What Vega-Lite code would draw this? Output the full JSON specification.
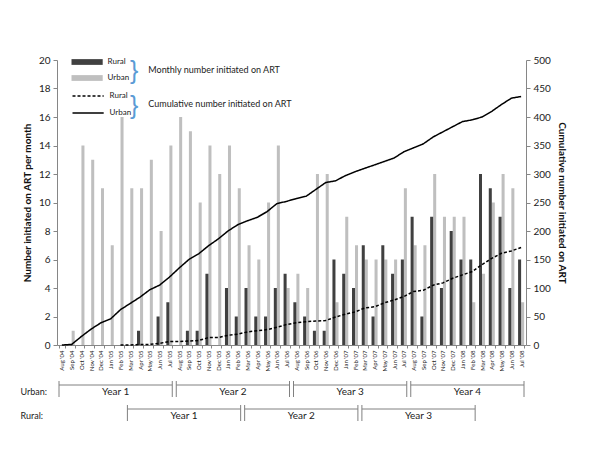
{
  "$schema": "https://vega.github.io/schema/vega-lite/v6.json",
  "padding": {"left": 20, "top": 54, "right": 5, "bottom": 5},
  "config": {
    "font": "Lato",
    "view": {"stroke": null},
    "axis": {"grid": false, "domainColor": "#868686", "tickColor": "#868686", "labelColor": "#222222", "titleColor": "#111111"},
    "legend": {"labelFont": "Lato", "labelColor": "#222222"}
  },
  "datasets": {
    "art": [
      {"month": "Aug '04", "group": "Urban", "monthly": 0, "cumulative": 0},
      {"month": "Sep '04", "group": "Urban", "monthly": 1, "cumulative": 1},
      {"month": "Oct '04", "group": "Urban", "monthly": 14, "cumulative": 15},
      {"month": "Nov '04", "group": "Urban", "monthly": 13, "cumulative": 28},
      {"month": "Dec '04", "group": "Urban", "monthly": 11, "cumulative": 39},
      {"month": "Jan '05", "group": "Urban", "monthly": 7, "cumulative": 46},
      {"month": "Feb '05", "group": "Urban", "monthly": 16, "cumulative": 62},
      {"month": "Mar '05", "group": "Urban", "monthly": 11, "cumulative": 73},
      {"month": "Apr '05", "group": "Urban", "monthly": 11, "cumulative": 84},
      {"month": "May '05", "group": "Urban", "monthly": 13, "cumulative": 97},
      {"month": "Jun '05", "group": "Urban", "monthly": 8, "cumulative": 105},
      {"month": "Jul '05", "group": "Urban", "monthly": 14, "cumulative": 119},
      {"month": "Aug '05", "group": "Urban", "monthly": 16, "cumulative": 135},
      {"month": "Sep '05", "group": "Urban", "monthly": 15, "cumulative": 150},
      {"month": "Oct '05", "group": "Urban", "monthly": 10, "cumulative": 160},
      {"month": "Nov '05", "group": "Urban", "monthly": 14, "cumulative": 174},
      {"month": "Dec '05", "group": "Urban", "monthly": 12, "cumulative": 186},
      {"month": "Jan '06", "group": "Urban", "monthly": 14, "cumulative": 200},
      {"month": "Feb '06", "group": "Urban", "monthly": 11, "cumulative": 211},
      {"month": "Mar '06", "group": "Urban", "monthly": 7, "cumulative": 218},
      {"month": "Apr '06", "group": "Urban", "monthly": 6, "cumulative": 224},
      {"month": "May '06", "group": "Urban", "monthly": 10, "cumulative": 234},
      {"month": "Jun '06", "group": "Urban", "monthly": 14, "cumulative": 248},
      {"month": "Jul '06", "group": "Urban", "monthly": 4, "cumulative": 252},
      {"month": "Aug '06", "group": "Urban", "monthly": 5, "cumulative": 257},
      {"month": "Sep '06", "group": "Urban", "monthly": 4, "cumulative": 261},
      {"month": "Oct '06", "group": "Urban", "monthly": 12, "cumulative": 273},
      {"month": "Nov '06", "group": "Urban", "monthly": 12, "cumulative": 285},
      {"month": "Dec '06", "group": "Urban", "monthly": 3, "cumulative": 288},
      {"month": "Jan '07", "group": "Urban", "monthly": 9, "cumulative": 297},
      {"month": "Feb '07", "group": "Urban", "monthly": 7, "cumulative": 304},
      {"month": "Mar '07", "group": "Urban", "monthly": 6, "cumulative": 310},
      {"month": "Apr '07", "group": "Urban", "monthly": 6, "cumulative": 316},
      {"month": "May '07", "group": "Urban", "monthly": 6, "cumulative": 322},
      {"month": "Jun '07", "group": "Urban", "monthly": 6, "cumulative": 328},
      {"month": "Jul '07", "group": "Urban", "monthly": 11, "cumulative": 339},
      {"month": "Aug '07", "group": "Urban", "monthly": 7, "cumulative": 346},
      {"month": "Sep '07", "group": "Urban", "monthly": 7, "cumulative": 353},
      {"month": "Oct '07", "group": "Urban", "monthly": 12, "cumulative": 365},
      {"month": "Nov '07", "group": "Urban", "monthly": 9, "cumulative": 374},
      {"month": "Dec '07", "group": "Urban", "monthly": 9, "cumulative": 383},
      {"month": "Jan '08", "group": "Urban", "monthly": 9, "cumulative": 392},
      {"month": "Feb '08", "group": "Urban", "monthly": 3, "cumulative": 395},
      {"month": "Mar '08", "group": "Urban", "monthly": 5, "cumulative": 400},
      {"month": "Apr '08", "group": "Urban", "monthly": 10, "cumulative": 410},
      {"month": "May '08", "group": "Urban", "monthly": 12, "cumulative": 422},
      {"month": "Jun '08", "group": "Urban", "monthly": 11, "cumulative": 433},
      {"month": "Jul '08", "group": "Urban", "monthly": 3, "cumulative": 436},
      {"month": "Feb '05", "group": "Rural", "monthly": 0, "cumulative": 0},
      {"month": "Mar '05", "group": "Rural", "monthly": 0, "cumulative": 0},
      {"month": "Apr '05", "group": "Rural", "monthly": 1, "cumulative": 1},
      {"month": "May '05", "group": "Rural", "monthly": 0, "cumulative": 1},
      {"month": "Jun '05", "group": "Rural", "monthly": 2, "cumulative": 3},
      {"month": "Jul '05", "group": "Rural", "monthly": 3, "cumulative": 6},
      {"month": "Aug '05", "group": "Rural", "monthly": 0, "cumulative": 6},
      {"month": "Sep '05", "group": "Rural", "monthly": 1, "cumulative": 7},
      {"month": "Oct '05", "group": "Rural", "monthly": 1, "cumulative": 8},
      {"month": "Nov '05", "group": "Rural", "monthly": 5, "cumulative": 13},
      {"month": "Dec '05", "group": "Rural", "monthly": 0, "cumulative": 13},
      {"month": "Jan '06", "group": "Rural", "monthly": 4, "cumulative": 17},
      {"month": "Feb '06", "group": "Rural", "monthly": 2, "cumulative": 19},
      {"month": "Mar '06", "group": "Rural", "monthly": 4, "cumulative": 23},
      {"month": "Apr '06", "group": "Rural", "monthly": 2, "cumulative": 25},
      {"month": "May '06", "group": "Rural", "monthly": 2, "cumulative": 27},
      {"month": "Jun '06", "group": "Rural", "monthly": 4, "cumulative": 31},
      {"month": "Jul '06", "group": "Rural", "monthly": 5, "cumulative": 36},
      {"month": "Aug '06", "group": "Rural", "monthly": 3, "cumulative": 39},
      {"month": "Sep '06", "group": "Rural", "monthly": 2, "cumulative": 41},
      {"month": "Oct '06", "group": "Rural", "monthly": 1, "cumulative": 42},
      {"month": "Nov '06", "group": "Rural", "monthly": 1, "cumulative": 43},
      {"month": "Dec '06", "group": "Rural", "monthly": 6, "cumulative": 49},
      {"month": "Jan '07", "group": "Rural", "monthly": 5, "cumulative": 54},
      {"month": "Feb '07", "group": "Rural", "monthly": 4, "cumulative": 58},
      {"month": "Mar '07", "group": "Rural", "monthly": 7, "cumulative": 65},
      {"month": "Apr '07", "group": "Rural", "monthly": 2, "cumulative": 67},
      {"month": "May '07", "group": "Rural", "monthly": 7, "cumulative": 74},
      {"month": "Jun '07", "group": "Rural", "monthly": 5, "cumulative": 79},
      {"month": "Jul '07", "group": "Rural", "monthly": 6, "cumulative": 85},
      {"month": "Aug '07", "group": "Rural", "monthly": 9, "cumulative": 94},
      {"month": "Sep '07", "group": "Rural", "monthly": 2, "cumulative": 96},
      {"month": "Oct '07", "group": "Rural", "monthly": 9, "cumulative": 105},
      {"month": "Nov '07", "group": "Rural", "monthly": 4, "cumulative": 109},
      {"month": "Dec '07", "group": "Rural", "monthly": 8, "cumulative": 117},
      {"month": "Jan '08", "group": "Rural", "monthly": 6, "cumulative": 123},
      {"month": "Feb '08", "group": "Rural", "monthly": 6, "cumulative": 129},
      {"month": "Mar '08", "group": "Rural", "monthly": 12, "cumulative": 141},
      {"month": "Apr '08", "group": "Rural", "monthly": 11, "cumulative": 152},
      {"month": "May '08", "group": "Rural", "monthly": 9, "cumulative": 161},
      {"month": "Jun '08", "group": "Rural", "monthly": 4, "cumulative": 165},
      {"month": "Jul '08", "group": "Rural", "monthly": 6, "cumulative": 171}
    ],
    "years": [
      {"row": "Urban:", "label": "Year 1", "from": 0, "to": 12, "mid": 6},
      {"row": "Urban:", "label": "Year 2", "from": 12, "to": 24, "mid": 18},
      {"row": "Urban:", "label": "Year 3", "from": 24, "to": 36, "mid": 30},
      {"row": "Urban:", "label": "Year 4", "from": 36, "to": 48, "mid": 42},
      {"row": "Rural:", "label": "Year 1", "from": 7, "to": 19, "mid": 13},
      {"row": "Rural:", "label": "Year 2", "from": 19, "to": 31, "mid": 25},
      {"row": "Rural:", "label": "Year 3", "from": 31, "to": 43, "mid": 37}
    ]
  },
  "resolve": {"legend": {"fill": "independent", "strokeDash": "independent"}},
  "spacing": 8,
  "vconcat": [
    {
      "width": 469,
      "height": 285,
      "data": {"name": "art"},
      "encoding": {
        "x": {
          "field": "month", "type": "ordinal", "title": null,
          "scale": {"type": "band", "paddingInner": 0.38, "paddingOuter": 0.19,
            "domain": ["Aug '04","Sep '04","Oct '04","Nov '04","Dec '04","Jan '05","Feb '05","Mar '05","Apr '05","May '05","Jun '05","Jul '05","Aug '05","Sep '05","Oct '05","Nov '05","Dec '05","Jan '06","Feb '06","Mar '06","Apr '06","May '06","Jun '06","Jul '06","Aug '06","Sep '06","Oct '06","Nov '06","Dec '06","Jan '07","Feb '07","Mar '07","Apr '07","May '07","Jun '07","Jul '07","Aug '07","Sep '07","Oct '07","Nov '07","Dec '07","Jan '08","Feb '08","Mar '08","Apr '08","May '08","Jun '08","Jul '08"]},
          "axis": {"labelAngle": -90, "labelFontSize": 6, "tickSize": 3, "tickBand": "extent", "labelPadding": 2}
        }
      },
      "layer": [
        {
          "mark": {"type": "bar"},
          "encoding": {
            "xOffset": {"field": "group", "type": "nominal", "scale": {"domain": ["Rural", "Urban"], "paddingInner": 0, "paddingOuter": 0}},
            "y": {"field": "monthly", "type": "quantitative", "scale": {"domain": [0, 20], "nice": false},
              "axis": {"orient": "left", "title": "Number initiated on ART per month", "titleFontSize": 10, "titleFontWeight": "bold", "values": [0,2,4,6,8,10,12,14,16,18,20], "labelFontSize": 10, "tickSize": 4, "labelPadding": 3, "titlePadding": 6}},
            "fill": {"field": "group", "type": "nominal", "scale": {"domain": ["Rural", "Urban"], "range": ["#404040", "#bfbfbf"]},
              "legend": {"orient": "none", "legendX": 22.1, "legendY": -6, "title": null, "padding": 0, "rowPadding": 4, "symbolType": "M-1.95,-0.36H1.95V0.36H-1.95Z", "symbolSize": 256, "symbolStrokeWidth": 0, "labelFontSize": 8, "labelOffset": 12.5}}
          }
        },
        {
          "mark": {"type": "line", "color": "#000000", "strokeWidth": 1.5},
          "encoding": {
            "y": {"field": "cumulative", "type": "quantitative", "scale": {"domain": [0, 500], "nice": false},
              "axis": {"orient": "right", "title": "Cumulative number initiated on ART", "titleFontSize": 10, "titleFontWeight": "bold", "values": [0,50,100,150,200,250,300,350,400,450,500], "labelFontSize": 10, "tickSize": 4, "labelPadding": 3, "titlePadding": 6}},
            "strokeDash": {"field": "group", "type": "nominal", "scale": {"range": [[3, 2], [1, 0]]},
              "legend": {"orient": "none", "legendX": 22.1, "legendY": 27, "title": null, "padding": 0, "rowPadding": 4, "symbolType": "M-1.95,0H1.95", "symbolSize": 256, "symbolStrokeColor": "#000000", "symbolStrokeWidth": 1.5, "labelFontSize": 8, "labelOffset": 12.5}}
          }
        },
        {
          "data": {"values": [{}]},
          "mark": {"type": "text", "text": "}", "font": "Liberation Sans", "fontSize": 25, "color": "#5b9bd5", "baseline": "middle", "align": "center", "dx": 4},
          "encoding": {"x": {"datum": "Mar '05"}, "y": {"datum": 19.2, "type": "quantitative", "scale": {"domain": [0, 20], "nice": false}, "axis": null}}
        },
        {
          "data": {"values": [{}]},
          "mark": {"type": "text", "text": "}", "font": "Liberation Sans", "fontSize": 25, "color": "#5b9bd5", "baseline": "middle", "align": "center", "dx": 4},
          "encoding": {"x": {"datum": "Mar '05"}, "y": {"datum": 16.8, "type": "quantitative", "scale": {"domain": [0, 20], "nice": false}, "axis": null}}
        },
        {
          "data": {"values": [{}]},
          "mark": {"type": "text", "text": "Monthly number initiated on ART", "fontSize": 9, "color": "#222222", "baseline": "middle", "align": "left", "dx": -1.5},
          "encoding": {"x": {"datum": "May '05"}, "y": {"datum": 19.3, "type": "quantitative", "scale": {"domain": [0, 20], "nice": false}, "axis": null}}
        },
        {
          "data": {"values": [{}]},
          "mark": {"type": "text", "text": "Cumulative  number initiated on ART", "fontSize": 9, "color": "#222222", "baseline": "middle", "align": "left", "dx": -1.5},
          "encoding": {"x": {"datum": "May '05"}, "y": {"datum": 16.9, "type": "quantitative", "scale": {"domain": [0, 20], "nice": false}, "axis": null}}
        }
      ],
      "resolve": {"scale": {"y": "independent"}, "legend": {"fill": "independent", "strokeDash": "independent"}}
    },
    {
      "width": 469,
      "height": 48,
      "data": {"name": "years"},
      "encoding": {
        "y": {"field": "row", "type": "nominal", "bandPosition": 0,
          "scale": {"type": "band", "domain": ["Urban:", "Rural:"], "paddingInner": 0, "paddingOuter": 0},
          "axis": {"title": null, "domain": false, "ticks": false, "labelAlign": "left", "labelPadding": 37, "labelFontSize": 9, "labelBaseline": "middle"}}
      },
      "layer": [
        {
          "mark": {"type": "rule", "color": "#808080", "strokeWidth": 1, "xOffset": 2, "x2Offset": -2, "yOffset": 5},
          "encoding": {
            "x": {"field": "from", "type": "quantitative", "scale": {"domain": [0, 48], "nice": false, "zero": false}, "axis": null},
            "x2": {"field": "to"}
          }
        },
        {
          "mark": {"type": "rule", "color": "#808080", "strokeWidth": 1, "xOffset": 2, "yOffset": 1, "y2Offset": 5},
          "encoding": {
            "x": {"field": "from", "type": "quantitative"},
            "y2": {"field": "row"}
          }
        },
        {
          "mark": {"type": "rule", "color": "#808080", "strokeWidth": 1, "xOffset": -2, "yOffset": 1, "y2Offset": 5},
          "encoding": {
            "x": {"field": "to", "type": "quantitative"},
            "y2": {"field": "row"}
          }
        },
        {
          "mark": {"type": "text", "fontSize": 10, "color": "#222222", "baseline": "middle", "yOffset": 12},
          "encoding": {
            "x": {"field": "mid", "type": "quantitative"},
            "text": {"field": "label"}
          }
        }
      ]
    }
  ]
}
